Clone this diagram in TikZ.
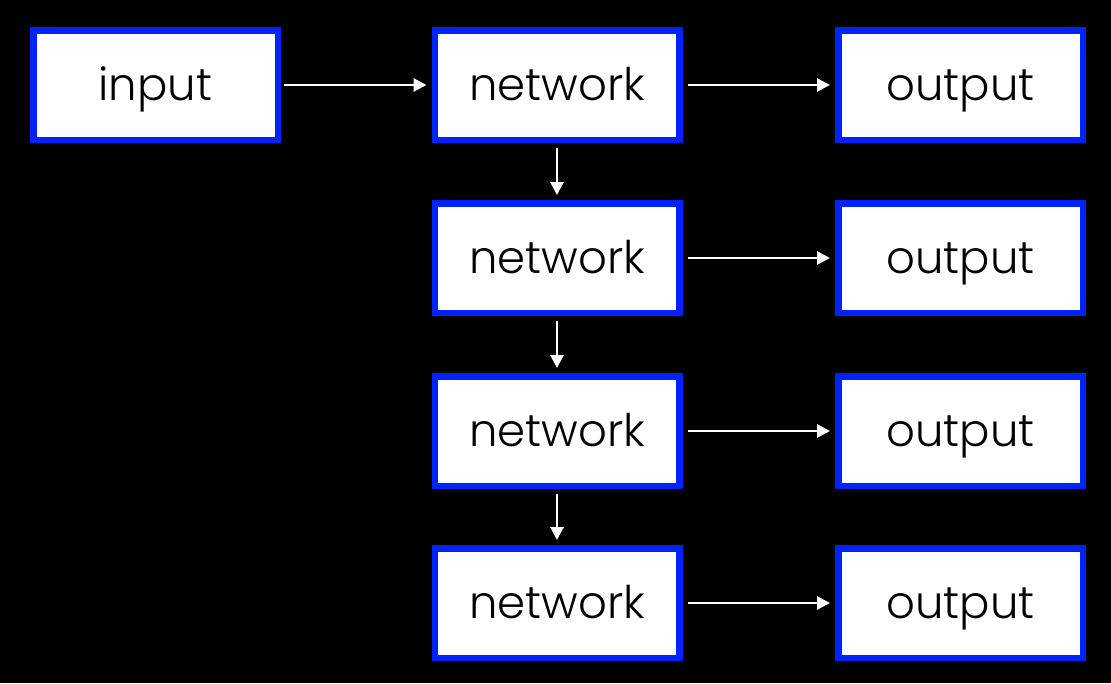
\documentclass[tikz,border=0pt]{standalone}
\usepackage{fontspec}
\setmainfont{Poppins Light}
\usetikzlibrary{arrows.meta}
\definecolor{boxblue}{HTML}{0022FF}
\begin{document}
\begin{tikzpicture}[x=1pt,y=-1pt,
  blk/.style={draw=boxblue, line width=6.5pt, fill=white, minimum width=244.5pt, minimum height=109.5pt, inner sep=0pt, text height=34pt, text depth=4pt, font=\fontsize{45}{45}\selectfont, text=black},
  conn/.style={draw=white, line width=2.8pt, -{Triangle[length=13pt,width=13pt]}}]
\fill[black] (0,0) rectangle (1111,683);
\useasboundingbox (0,0) rectangle (1111,683);
\node[blk] (in) at (155.5,85) {input};
\foreach \i/\y in {1/85,2/258,3/431,4/603}{
  \node[blk] (n\i) at (557,\y) {network};
  \node[blk] (o\i) at (960.5,\y) {output};
}
\draw[conn] ([xshift=3pt]in.east) -- ([xshift=-5pt]n1.west);
\foreach \i in {1,2,3,4}{
  \draw[conn] ([xshift=5pt]n\i.east) -- ([xshift=-5pt]o\i.west);
}
\foreach \i/\j in {1/2,2/3,3/4}{
  \draw[conn] ([yshift=-5pt]n\i.south) -- ([yshift=5pt]n\j.north);
}
\end{tikzpicture}
\end{document}
